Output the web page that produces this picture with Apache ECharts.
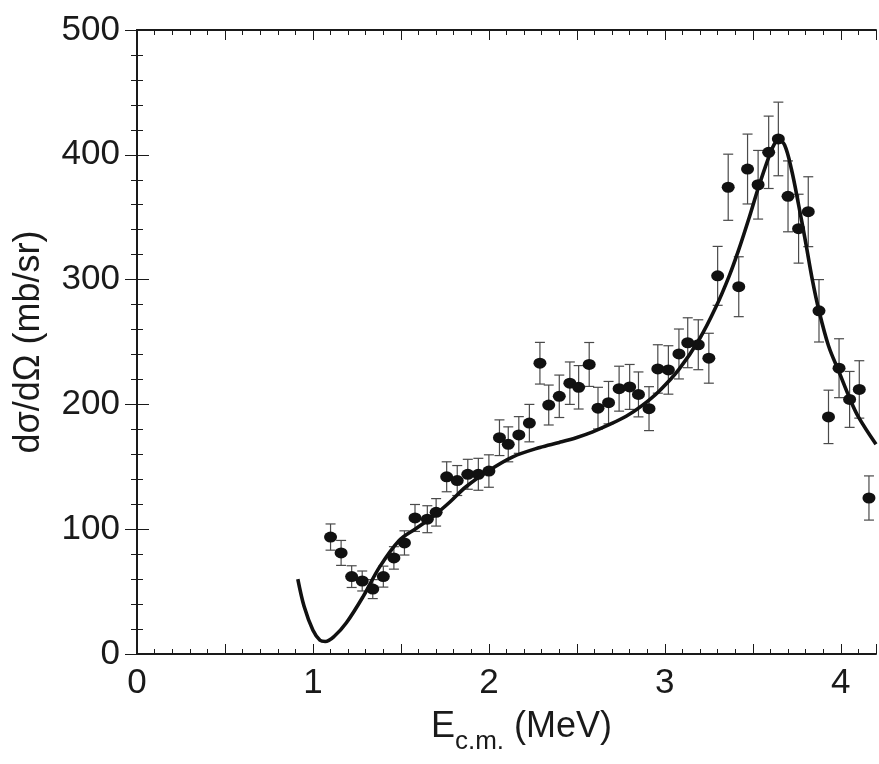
<!DOCTYPE html>
<html>
<head>
<meta charset="utf-8">
<script src="https://cdn.jsdelivr.net/npm/echarts@6/dist/echarts.min.js"></script>
<style>
  html, body { margin: 0; padding: 0; background: #fff; }
  #main { width: 879px; height: 764px; }
</style>
</head>
<body>
<div id="main"></div>
<script>
// measured points: energy (MeV), cross section (mb/sr), error
var pointE = [1.10, 1.16, 1.22, 1.28, 1.34, 1.40, 1.46, 1.52, 1.58, 1.65, 1.70, 1.76, 1.82, 1.88, 1.94,
  2.00, 2.06, 2.11, 2.17, 2.23, 2.29, 2.34, 2.40, 2.46, 2.51, 2.57, 2.62, 2.68, 2.74, 2.80, 2.85, 2.91,
  2.96, 3.02, 3.08, 3.13, 3.19, 3.25, 3.30, 3.36, 3.42, 3.47, 3.53, 3.59, 3.645, 3.70, 3.76, 3.815,
  3.876, 3.93, 3.99, 4.05, 4.105, 4.16]
var pointY = [93.7, 81, 62, 58.5, 52, 62, 77, 89, 109, 108, 113.5, 142, 139, 144, 144,
  146.6, 173.3, 168, 175.5, 185, 233, 199.5, 206.5, 217, 213.7, 232, 197, 201.4, 212.6, 214, 208, 196.6,
  228.4, 227.6, 240.4, 249.4, 247.8, 237, 303, 374, 294.3, 388.6, 376, 402, 412.7, 366.7, 340.8, 354.4,
  275, 190, 229, 204, 212, 125]
var pointErr = [10.5, 10, 8.7, 8, 7.6, 8.4, 9, 9.7, 10.8, 10.8, 11, 12, 12, 12, 12.8,
  13, 14.3, 14, 14.7, 15, 16.7, 16, 17, 17, 17.4, 17.6, 16.7, 17, 18, 18, 18, 17.6,
  19.4, 19.4, 20, 20, 20, 20, 23.6, 26.5, 24, 28, 27.5, 29, 29.5, 28.4, 27.6, 28,
  25, 21.4, 23.6, 22.4, 23, 17.7]

// fitted curve
var curveE = [0.914, 0.95, 1.00, 1.04, 1.07, 1.12, 1.19, 1.285, 1.38, 1.49, 1.58, 1.68, 1.78, 1.87,
  2.00, 2.136, 2.29, 2.40, 2.50, 2.59, 2.68, 2.78, 2.87, 2.97, 3.08, 3.195, 3.29, 3.366, 3.42, 3.48,
  3.53, 3.59, 3.62, 3.645, 3.68, 3.72, 3.76, 3.80, 3.838, 3.876, 3.93, 3.99, 4.05, 4.10, 4.20]
var curveY = [60, 38, 19, 11, 10, 14, 25, 46, 70, 91, 100, 110, 122, 134,
  147, 158, 165.5, 169.5, 173.5, 178, 183.5, 190.5, 199, 211, 228, 252, 278, 303, 324, 350,
  373, 398, 408, 412, 408, 388, 360, 330, 300, 275, 247, 226, 205, 190, 168]

var font = 'Liberation Sans, Arial, Helvetica, sans-serif'
var ink = '#1a1a1a'

var pointData = pointE.map(function (x, i) { return [x, pointY[i], pointErr[i]] })
var curveData = curveE.map(function (x, i) { return [x, curveY[i]] })

function xAxisPair (pos, showLabel) {
  return [{
    type: 'value', position: pos, min: 0, max: 4.2, interval: 0.5,
    axisLine: { show: true, lineStyle: { color: ink, width: 2 } },
    axisTick: { show: true, inside: true, length: 10, lineStyle: { color: ink, width: 1 } },
    axisLabel: {
      show: showLabel, margin: 12, color: ink, fontSize: 35, fontFamily: font,
      formatter: function (v) { return Math.abs(v - Math.round(v)) < 1e-6 ? String(Math.round(v)) : '' }
    },
    splitLine: { show: false },
    name: showLabel ? '{e|E}{s|c.m.}{n| (MeV)}' : '',
    nameLocation: 'middle',
    nameGap: 55,
    nameTextStyle: {
      padding: [0, 0, 0, 30],
      rich: {
        e: { fontSize: 36, fontFamily: font, color: ink, verticalAlign: 'bottom', padding: [0, 0, 10, 0] },
        s: { fontSize: 26, fontFamily: font, color: ink, verticalAlign: 'bottom' },
        n: { fontSize: 36, fontFamily: font, color: ink, verticalAlign: 'bottom', padding: [0, 0, 10, 0] }
      }
    }
  }, {
    // minor ticks every 0.1
    type: 'value', position: pos, min: 0, max: 4.2, interval: 0.1,
    axisLine: { show: false },
    axisTick: { show: true, inside: true, length: 5, lineStyle: { color: ink, width: 1 } },
    axisLabel: { show: false },
    splitLine: { show: false }
  }]
}

function yAxisOne (pos, showLabel) {
  return {
    type: 'value', position: pos, min: 0, max: 500, interval: 100,
    axisLine: { show: true, lineStyle: { color: ink, width: 2 } },
    axisTick: { show: true, inside: true, length: 12, lineStyle: { color: ink, width: 1 } },
    minorTick: { show: true, splitNumber: 5, length: 6, lineStyle: { color: ink, width: 1 } },
    axisLabel: { show: showLabel, margin: 17, color: ink, fontSize: 35, fontFamily: font, padding: [0, 0, 8, 0] },
    splitLine: { show: false },
    minorSplitLine: { show: false },
    name: showLabel ? 'dσ/dΩ (mb/sr)' : '',
    nameLocation: 'middle',
    nameRotate: 90,
    nameGap: 90,
    nameTextStyle: { fontSize: 36, fontFamily: font, color: ink }
  }
}

var xAxes = xAxisPair('bottom', true).concat(xAxisPair('top', false))

var option = {
  animation: false,
  backgroundColor: '#fff',
  grid: { left: 137, right: 2, top: 30, bottom: 110 },
  xAxis: xAxes,
  yAxis: [yAxisOne('left', true), yAxisOne('right', false)],
  series: [{
    type: 'custom',
    name: 'errors',
    xAxisIndex: 0,
    yAxisIndex: 0,
    z: 2,
    data: pointData,
    encode: { x: 0, y: 1 },
    renderItem: function (params, api) {
      var x = api.value(0)
      var y = api.value(1)
      var e = api.value(2)
      var hi = api.coord([x, y + e])
      var lo = api.coord([x, y - e])
      var w = 5
      var st = { stroke: '#4a4a4a', lineWidth: 1.2 }
      return {
        type: 'group',
        children: [
          { type: 'line', shape: { x1: hi[0], y1: hi[1], x2: lo[0], y2: lo[1] }, style: st },
          { type: 'line', shape: { x1: hi[0] - w, y1: hi[1], x2: hi[0] + w, y2: hi[1] }, style: st },
          { type: 'line', shape: { x1: lo[0] - w, y1: lo[1], x2: lo[0] + w, y2: lo[1] }, style: st }
        ]
      }
    }
  }, {
    type: 'scatter',
    name: 'data',
    xAxisIndex: 0,
    yAxisIndex: 0,
    z: 3,
    symbol: 'circle',
    symbolSize: [13, 11],
    itemStyle: { color: '#111', opacity: 1 },
    data: pointData.map(function (d) { return [d[0], d[1]] })
  }, {
    type: 'line',
    name: 'fit',
    xAxisIndex: 0,
    yAxisIndex: 0,
    z: 4,
    smooth: 0.35,
    showSymbol: false,
    symbol: 'none',
    clip: true,
    lineStyle: { color: '#111', width: 3.6 },
    data: curveData
  }]
}

var myChart = echarts.init(document.getElementById('main'))
myChart.setOption(option)
</script>
</body>
</html>
